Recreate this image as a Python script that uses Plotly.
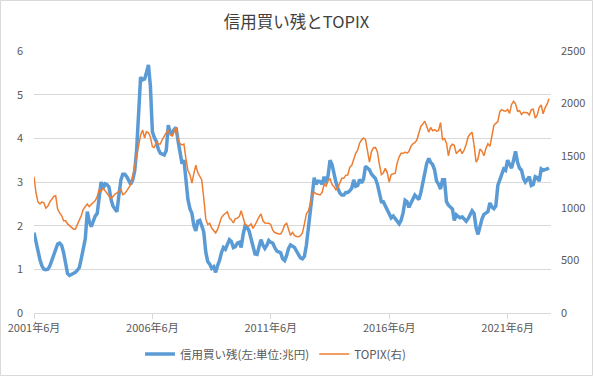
import pandas as pd
import plotly.graph_objects as go

START_MONTH = "2001-06-01"

# 信用買い残 (兆円), monthly from 2001年6月
margin_buy = [
    1.84, 1.62, 1.40, 1.22, 1.08, 1.00, 0.99, 1.00, 1.08, 1.21,
    1.32, 1.46, 1.58, 1.60, 1.55, 1.38, 1.12, 0.90, 0.86, 0.88,
    0.90, 0.93, 0.98, 1.04, 1.25, 1.44, 1.70, 2.32, 2.10, 1.98,
    2.12, 2.22, 2.28, 2.70, 3.00, 2.85, 2.96, 2.94, 2.88, 2.60,
    2.45, 2.38, 2.32, 2.70, 3.05, 3.18, 3.18, 3.12, 3.02, 2.95,
    3.05, 3.25, 3.73, 4.55, 5.40, 5.34, 5.36, 5.50, 5.68, 5.20,
    4.15, 4.02, 3.93, 3.75, 3.66, 3.64, 3.62, 3.72, 4.30, 4.15,
    4.10, 4.20, 4.25, 3.95, 3.62, 3.42, 3.50, 3.10, 2.60, 2.39,
    2.28, 2.00, 1.88, 2.10, 2.12, 2.00, 1.86, 1.40, 1.18, 1.12,
    1.02, 1.06, 0.93, 1.08, 1.20, 1.38, 1.50, 1.46, 1.60, 1.68,
    1.64, 1.50, 1.52, 1.60, 1.62, 1.50, 1.80, 2.00, 1.96, 1.88,
    1.70, 1.50, 1.35, 1.34, 1.52, 1.68, 1.55, 1.48, 1.55, 1.66,
    1.62, 1.60, 1.50, 1.42, 1.40, 1.38, 1.24, 1.20, 1.32, 1.48,
    1.56, 1.53, 1.50, 1.42, 1.33, 1.26, 1.24, 1.30, 1.55, 1.95,
    2.40, 2.70, 3.10, 2.95, 3.02, 3.01, 2.95, 3.12, 2.97, 3.15,
    3.50, 3.40, 3.15, 3.00, 2.85, 2.75, 2.70, 2.70, 2.76, 2.76,
    2.80, 2.86, 3.05, 2.90, 2.92, 3.06, 2.98, 3.06, 3.36, 3.32,
    3.28, 3.18, 3.12, 3.08, 2.95, 2.70, 2.55, 2.55, 2.45, 2.38,
    2.25, 2.18, 2.22, 2.15, 2.08, 2.04, 2.12, 2.30, 2.58, 2.55,
    2.42, 2.52, 2.62, 2.70, 2.65, 2.60, 2.75, 2.98, 3.22, 3.43,
    3.54, 3.45, 3.40, 3.28, 3.02, 2.95, 2.84, 3.05, 3.05, 2.55,
    2.47, 2.43, 2.38, 2.12, 2.25, 2.21, 2.18, 2.20, 2.15, 2.10,
    2.16, 2.24, 2.34, 2.28, 1.95, 1.80, 2.00, 2.15, 2.26, 2.28,
    2.32, 2.52, 2.43, 2.39, 2.45, 2.92, 3.05, 3.15, 3.30, 3.27,
    3.50, 3.40, 3.32, 3.50, 3.70, 3.45, 3.32, 3.27, 3.08, 3.00,
    3.08, 3.12, 2.92, 2.94, 3.12, 3.10, 3.02, 3.30, 3.27, 3.28,
    3.30, 3.32,
]

# TOPIX, monthly from 2001年6月
topix = [
    1300, 1150, 1060, 1040, 1060, 1050, 1000, 1020, 1060, 1080,
    1110, 1120, 990, 955, 930, 880, 880, 850, 835, 820,
    800, 800, 840, 890, 930, 990, 1015, 1040, 1015, 1040,
    1055, 1070, 1110, 1180, 1160, 1190, 1160, 1142, 1115, 1094,
    1110, 1135, 1145, 1160, 1180, 1130, 1140, 1165, 1200, 1225,
    1300, 1400, 1500, 1590, 1698, 1746, 1670, 1730, 1720, 1680,
    1587, 1580, 1630, 1612, 1612, 1655, 1690, 1720, 1746, 1700,
    1690, 1740, 1772, 1660, 1615, 1603, 1612, 1470, 1360, 1320,
    1240, 1330, 1410, 1340, 1310, 1270, 1100, 900, 845, 855,
    810, 790, 765, 795, 850, 910, 935, 950, 965, 905,
    888, 860, 900, 905, 920, 975, 900, 845, 835, 830,
    850, 808, 840, 885, 915, 945, 880, 858, 856, 856,
    845, 790, 768, 758, 754, 754, 785, 840, 856, 800,
    740, 770, 740, 730, 728, 738, 765, 850, 945, 975,
    1040, 1140, 1150, 1138, 1130, 1126, 1150, 1230, 1210, 1265,
    1280, 1225, 1205, 1175, 1200, 1250, 1285, 1285, 1315, 1317,
    1390, 1410, 1460, 1524, 1555, 1620, 1650, 1670, 1655, 1560,
    1440, 1540, 1575, 1580, 1540, 1420, 1320, 1335, 1380, 1340,
    1250, 1320, 1326, 1333, 1430, 1490, 1524, 1524, 1535, 1525,
    1540, 1590, 1615, 1625, 1650, 1730, 1780, 1805, 1830, 1780,
    1725, 1770, 1740, 1750, 1735, 1740, 1816, 1655, 1665, 1620,
    1500, 1590, 1610, 1600, 1520, 1540, 1561, 1520, 1555, 1610,
    1680, 1708, 1725, 1600, 1440, 1470, 1565, 1545, 1500, 1570,
    1615, 1590, 1700, 1790, 1810, 1826, 1921, 1940, 1930, 1925,
    1943, 1905, 1990, 2020, 1995, 1925, 1930, 1895, 1915, 1910,
    1910, 1889, 1940, 1945, 1860, 1890, 1960, 1985, 1900, 1960,
    1995, 2045,
]

tick_dates = ["2001-06-01", "2006-06-01", "2011-06-01", "2016-06-01", "2021-06-01"]
tick_labels = ["2001年6月", "2006年6月", "2011年6月", "2016年6月", "2021年6月"]
left_ticks = [0, 1, 2, 3, 4, 5, 6]
right_ticks = [0, 500, 1000, 1500, 2000, 2500]

months = pd.date_range(START_MONTH, periods=len(margin_buy), freq="MS")

FONT = "Noto Sans CJK JP, Noto Sans, sans-serif"
GRAY = "#595959"
GRID = "#d9d9d9"

fig = go.Figure()
fig.add_trace(go.Scatter(
    x=months, y=margin_buy, name="信用買い残(左:単位:兆円)",
    mode="lines", line=dict(color="#5b9bd5", width=3.5), yaxis="y",
))
fig.add_trace(go.Scatter(
    x=months, y=topix, name="TOPIX(右)",
    mode="lines", line=dict(color="#ed7d31", width=1.5), yaxis="y2",
))

L, R, T, B = 34, 42, 51, 63
W, H = 593, 376
pw, ph = W - L - R, H - T - B

fig.update_layout(
    width=W, height=H,
    margin=dict(l=L, r=R, t=T, b=B, pad=0, autoexpand=False),
    paper_bgcolor="white", plot_bgcolor="white",
    font=dict(family=FONT, size=11, color=GRAY),
    title=dict(text="信用買い残とTOPIX", x=0.5, xanchor="center", y=1 - 22 / H,
               yanchor="middle", font=dict(size=16.5, color="#404040", family=FONT)),
    showlegend=True,
    legend=dict(orientation="h", x=(275.5 - L) / pw, xanchor="center",
                y=-(354 - 313) / ph, yanchor="middle",
                font=dict(size=11.5, color=GRAY, family=FONT),
                itemwidth=30, bgcolor="rgba(0,0,0,0)"),
    xaxis=dict(
        type="date", range=["2001-06-01", "2023-04-01"],
        tickvals=tick_dates, ticktext=tick_labels,
        showgrid=False, showline=True, linecolor=GRID, linewidth=1,
        ticks="outside", ticklen=5, tickcolor=GRID, tickwidth=1,
        tickfont=dict(size=11, color=GRAY), zeroline=False,
    ),
    yaxis=dict(
        range=[0, 6], tickvals=left_ticks, showgrid=True, gridcolor=GRID, gridwidth=1,
        zeroline=False, showline=False, ticks="", ticklabelstandoff=10,
        tickfont=dict(size=11, color=GRAY),
    ),
    yaxis2=dict(
        range=[0, 2500], tickvals=right_ticks, overlaying="y", side="right",
        showgrid=False, zeroline=False, showline=False, ticks="", ticklabelstandoff=9,
        tickfont=dict(size=11, color=GRAY),
    ),
    shapes=[dict(
        type="rect", xref="paper", yref="paper",
        x0=(0.5 - L) / pw, x1=(W - 0.5 - L) / pw,
        y0=(T + ph - (H - 0.5)) / ph, y1=(T + ph - 0.5) / ph,
        line=dict(color=GRID, width=1), fillcolor="rgba(0,0,0,0)", layer="below",
    )],
)

fig.write_html(
    "out.html",
    config={"displayModeBar": False},
    post_script="document.body.style.margin='0';document.body.style.overflow='hidden';",
)
